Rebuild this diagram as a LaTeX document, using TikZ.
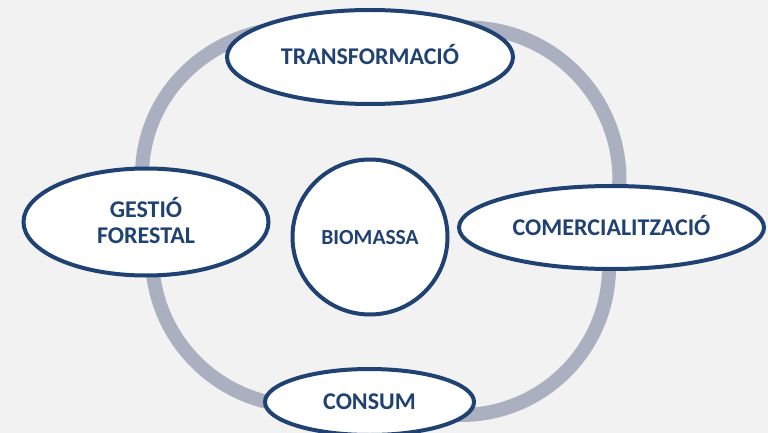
\documentclass[tikz,border=0pt]{standalone}
\usepackage{fontspec}
\setmainfont{Carlito}
\usetikzlibrary{shapes.geometric}
\definecolor{bg}{HTML}{F2F2F2}
\definecolor{ringgray}{HTML}{AAB0BF}
\definecolor{navy}{HTML}{1F4273}
\begin{document}
\begin{tikzpicture}[x=1pt,y=-1pt,
  box/.style={ellipse, draw=navy, line width=4pt, fill=white, inner sep=0pt,
    text=navy, font=\fontsize{24}{26}\selectfont\bfseries},
  oneline/.style={text height=15pt, text depth=0pt}
]
\fill[bg] (0,0) rectangle (768,433);
\useasboundingbox (0,0) rectangle (768,433);
% ring (rounded outline behind the ellipses)
\draw[ringgray, line width=14pt, line join=round]
  (142,176) .. controls (142,92) and (212,27) .. (300,27)
  -- (467,27.5) .. controls (551.2,27.5) and (619.5,95.8) .. (619.5,180)
  -- (609,267) .. controls (609,348.7) and (542.7,415) .. (461,415)
  -- (302,406) .. controls (219.2,406) and (152,338.8) .. (152,256)
  -- cycle;
\node[box, oneline, minimum width=286pt, minimum height=94pt] (transf) at (370,57) {TRANSFORMACIÓ};
\node[box, align=center, text depth=4pt, minimum width=245pt, minimum height=107pt] (gestio) at (146,222) {GESTIÓ\\FORESTAL};
\node[box, oneline, minimum width=305pt, minimum height=83pt, text depth=-2pt] (comerc) at (611.5,227.5) {COMERCIALITZACIÓ};
\node[box, oneline, minimum width=209pt, minimum height=66pt] (consum) at (369.5,402) {CONSUM};
\node[box, circle, oneline, minimum size=155pt, font=\fontsize{21.5}{26}\selectfont\bfseries] (bio) at (370,237) {BIOMASSA};
\end{tikzpicture}
\end{document}
